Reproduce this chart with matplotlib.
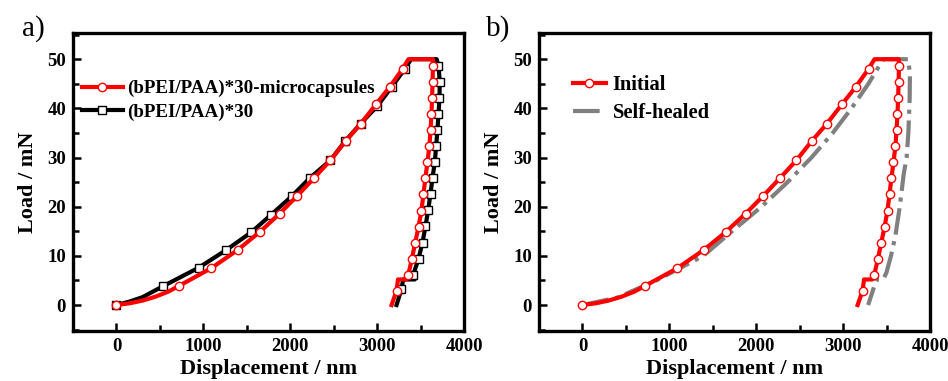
import matplotlib
matplotlib.use("Agg")
import matplotlib.pyplot as plt
from matplotlib.ticker import MultipleLocator

plt.rcParams['font.family'] = ['Liberation Serif', 'DejaVu Serif']

# ---- data (displacement nm, load mN) ----
# (bPEI/PAA)*30-microcapsules  (also "Initial" in panel b)
red_x = [0, 150, 300, 450, 600, 720, 1092, 1395, 1652, 1878, 2080, 2272, 2460, 2636, 2813, 2985, 3146, 3295, 3360,
         3640, 3642, 3638, 3632, 3625, 3614, 3602, 3579, 3556, 3533, 3510, 3476, 3437, 3399, 3357,
         3335, 3240, 3223, 3166]
red_y = [0, 0.35, 0.9, 1.7, 2.75, 3.9, 7.5, 11.2, 14.9, 18.6, 22.2, 25.8, 29.4, 33.3, 36.9, 40.8, 44.4, 48.1, 50,
         50, 48.6, 45.4, 42.1, 38.8, 35.6, 32.4, 29.1, 25.9, 22.6, 19.2, 15.9, 12.6, 9.3, 6.1,
         5.2, 5.2, 2.9, 0]
red_marks = [0, 5, 6, 7, 8, 9, 10, 11, 12, 13, 14, 15, 16, 17,
             20, 21, 22, 23, 24, 25, 26, 27, 28, 29, 30, 31, 32, 33, 36]

# (bPEI/PAA)*30
blk_x = [0, 150, 300, 533, 947, 1264, 1552, 1782, 2016, 2223, 2460, 2630, 2810, 3004, 3169, 3318, 3390,
         3685, 3706, 3721, 3717, 3706, 3694, 3679, 3664, 3637, 3614, 3587, 3556, 3522, 3476, 3414,
         3433, 3299, 3280, 3223]
blk_y = [0, 0.7, 1.6, 3.8, 7.6, 11.2, 14.8, 18.4, 22.1, 25.8, 29.4, 33.3, 36.9, 40.5, 44.4, 48.0, 50,
         50, 48.6, 45.4, 42.1, 38.8, 35.6, 32.4, 29.1, 25.9, 22.6, 19.3, 16.0, 12.7, 9.4, 6.1,
         5.2, 5.2, 3.2, 0]
blk_marks = [0, 3, 4, 5, 6, 7, 8, 9, 10, 11, 12, 13, 14, 15,
             18, 19, 20, 21, 22, 23, 24, 25, 26, 27, 28, 29, 30, 31, 34]

# Self-healed
gray_x = [0, 400, 850, 1390, 1720, 2060, 2360, 2635, 2880, 3095, 3290, 3460,
          3747, 3768, 3765, 3750, 3730, 3697, 3651, 3600, 3550, 3498, 3460, 3383, 3287]
gray_y = [0, 1.5, 5, 10, 15, 20, 25, 30, 35, 40, 45, 50,
          50, 47, 42, 35, 30, 26.7, 20, 14, 10, 6.6, 5.2, 5.2, 0]

xticks = [0, 1000, 2000, 3000, 4000]
yticks = [0, 10, 20, 30, 40, 50]

fig = plt.figure(figsize=(9.48, 3.81), dpi=100)
ax1 = fig.add_axes([0.077, 0.131, 0.4125, 0.782])
ax2 = fig.add_axes([0.5686, 0.131, 0.4125, 0.782])

RED = '#ff0000'
LW = 3.0
for ax in (ax1, ax2):
    ax.set_xlim(-500, 4000)
    ax.set_ylim(-5.3, 55.3)
    ax.set_xticks(xticks)
    ax.set_yticks(yticks)
    ax.xaxis.set_minor_locator(MultipleLocator(500))
    ax.yaxis.set_minor_locator(MultipleLocator(5))
    ax.tick_params(which='both', direction='in', top=False, right=False, width=1.8)
    ax.tick_params(which='major', length=6, labelsize=13.5, pad=5)
    ax.tick_params(which='minor', length=4)
    for lab in ax.get_xticklabels() + ax.get_yticklabels():
        lab.set_fontweight('bold')
    for s in ax.spines.values():
        s.set_linewidth(2.4)
    ax.set_xlabel('Displacement / nm', fontsize=16, fontweight='bold', labelpad=3)
    ax.set_ylabel('Load / mN', fontsize=16, fontweight='bold', labelpad=7)

# panel a
ax1.plot(blk_x, blk_y, color='black', lw=LW, marker='s', ms=5.5, mfc='white', mec='black', mew=1.0,
         markevery=blk_marks, label='(bPEI/PAA)*30', zorder=2)
ax1.plot(red_x, red_y, color=RED, lw=LW, marker='o', ms=6, mfc='white', mec=RED, mew=1.0,
         markevery=red_marks, label='(bPEI/PAA)*30-microcapsules', zorder=3)
h, l = ax1.get_legend_handles_labels()
ax1.legend([h[1], h[0]], [l[1], l[0]], loc='upper left', bbox_to_anchor=(0.023, 0.843),
           frameon=False, prop={'size': 13.7, 'weight': 'bold'}, handlelength=2.15,
           handletextpad=0.2, labelspacing=0.32, borderaxespad=0.0, borderpad=0.0)

# panel b
ax2.plot(red_x, red_y, color=RED, lw=LW, marker='o', ms=6, mfc='white', mec=RED, mew=1.0,
         markevery=red_marks, label='Initial', zorder=3)
ax2.plot(gray_x, gray_y, color='#808080', lw=LW, ls='-.', label='Self-healed', zorder=2)
ax2.legend(loc='upper left', bbox_to_anchor=(0.087, 0.858), frameon=False,
           prop={'size': 14.8, 'weight': 'bold'}, handlelength=1.6, handletextpad=0.33,
           labelspacing=0.38, borderaxespad=0.0, borderpad=0.0)

fig.text(0.023, 0.925, 'a)', fontsize=21, va='center', ha='left')
fig.text(0.513, 0.925, 'b)', fontsize=21, va='center', ha='left')

fig.savefig('out.png', dpi=100)
